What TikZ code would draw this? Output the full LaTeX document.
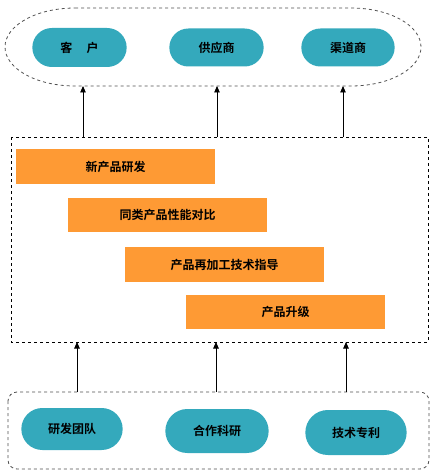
\documentclass[tikz,border=0pt]{standalone}
\usepackage{fontspec}
\newfontfamily\cjkbold{Noto Sans CJK SC Bold}
\usetikzlibrary{positioning, arrows.meta, shapes.misc}
\definecolor{pillteal}{RGB}{52, 169, 188}
\definecolor{barorange}{RGB}{254, 154, 52}
\definecolor{framegray}{RGB}{80, 80, 80}

\begin{document}
\begin{tikzpicture}[
        x=1pt, y=-1pt,
        pill/.style={
            rounded rectangle, fill=pillteal, draw=none,
            minimum width=101pt, minimum height=38pt,
            font=\cjkbold\fontsize{12}{14}\selectfont
        },
        bar/.style={
            fill=barorange, draw=none, anchor=north west,
            minimum width=199pt, minimum height=35pt,
            font=\cjkbold\fontsize{12}{14}\selectfont
        },
        up/.style={-{Triangle[width=5.5pt, length=6.5pt]}, line width=0.9pt}
    ]

    \useasboundingbox (0,0) rectangle (440,476);

    % outer frames
    \draw[framegray, dashed, thick]
        (75,8) -- (351,8)
        arc[start angle=90, end angle=-90, x radius=70pt, y radius=39pt]
        -- (75,86)
        arc[start angle=270, end angle=90, x radius=70pt, y radius=39pt];
    \draw[black, dashed, thick] (11,137) rectangle (428,342);
    \draw[framegray, dashed, thick, rounded corners=9pt]
        (8,392) rectangle (429,469);

    % top row
    \node[pill, minimum width=101pt, minimum height=39pt] (kehu) at (79.5,47.5)
        {客\hspace{1.2em}户};
    \node[pill] (gongying) at (216.5,47.5) {供应商};
    \node[pill, minimum width=100pt] (qudao) at (348,47.5) {渠道商};

    % middle bars
    \node[bar, minimum height=35pt] (xinchanpin) at (16,149) {新产品研发};
    \node[bar, minimum height=34pt] (duibi) at (68,198) {同类产品性能对比};
    \node[bar] (zhidao) at (125,247) {产品再加工技术指导};
    \node[bar, minimum height=34pt] (shengji) at (186,295) {产品升级};

    % bottom row
    \node[pill, minimum width=108pt, minimum height=42pt] (tuandui) at (72,429)
        {研发团队};
    \node[pill, minimum width=110pt, minimum height=44pt] (hezuo) at (217,431)
        {合作科研};
    \node[pill, minimum width=108pt, minimum height=45pt] (zhuanli) at (356,432.5)
        {技术专利};

    % arrows
    \coordinate (midtop1) at (83,137);
    \coordinate (midtop2) at (217,137);
    \coordinate (midtop3) at (343,137);
    \coordinate (outtop1) at (83,86);
    \coordinate (outtop2) at (217,86);
    \coordinate (outtop3) at (343,86);
    \coordinate (botfr1) at (77,392);
    \coordinate (botfr2) at (216,392);
    \coordinate (botfr3) at (346,392);
    \coordinate (midbot1) at (77,342);
    \coordinate (midbot2) at (216,342);
    \coordinate (midbot3) at (346,342);

    \foreach \i in {1,2,3} {
        \draw[up] (midtop\i) -- (outtop\i);
        \draw[up] (botfr\i) -- (midbot\i);
    }

\end{tikzpicture}
\end{document}
